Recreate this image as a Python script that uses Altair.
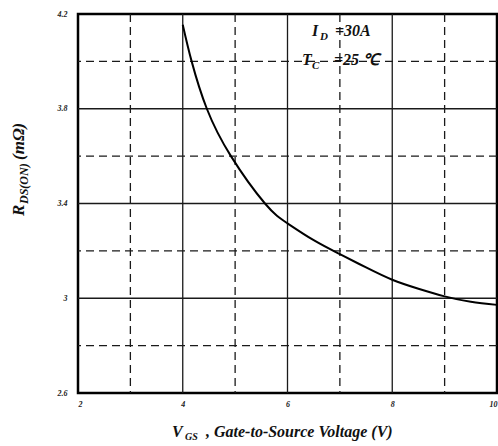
import altair as alt
import pandas as pd

# curve values
vgs = [4.0, 4.17, 4.46, 4.92, 5.57, 6.0, 6.5, 7.0, 7.5, 8.0, 8.5, 9.0, 9.5, 10.0]
rds = [4.155, 4.0, 3.8, 3.6, 3.4, 3.316, 3.245, 3.186, 3.13, 3.078, 3.04, 3.008, 2.985, 2.972]

x_ticks = [2, 4, 6, 8, 10]
y_ticks = [2.6, 3.0, 3.4, 3.8, 4.2]
x_grid_solid = [4, 6, 8]
x_grid_dash = [3, 5, 7, 9]
y_grid_solid = [3.0, 3.4, 3.8]
y_grid_dash = [2.8, 3.2, 3.6, 4.0]

SERIF = "Liberation Serif"
GRID = "#1a1a1a"

xs = alt.Scale(domain=[2, 10], nice=False, zero=False)
ys = alt.Scale(domain=[2.6, 4.2], nice=False, zero=False)

curve_df = pd.DataFrame({"vgs": vgs, "rds": rds})

base_axes = alt.Chart(curve_df).mark_line(opacity=0).encode(
    x=alt.X("vgs:Q", scale=xs, axis=alt.Axis(
        values=x_ticks, grid=False, domain=False, ticks=False, title=None,
        labelFont=SERIF, labelFontStyle="italic", labelFontWeight="bold",
        labelFontSize=8, labelColor="#222", labelPadding=7,
        labelExpr="'' + datum.value")),
    y=alt.Y("rds:Q", scale=ys, axis=alt.Axis(
        values=y_ticks, grid=False, domain=False, ticks=False, title=None,
        labelFont=SERIF, labelFontStyle="italic", labelFontWeight="bold",
        labelFontSize=8, labelColor="#222", labelPadding=11,
        labelExpr="'' + datum.value")),
)

def vrules(vals, dash):
    df = pd.DataFrame({"v": vals})
    m = alt.Chart(df).mark_rule(color=GRID, strokeWidth=1.3,
                                strokeDash=dash if dash else [1, 0])
    return m.encode(x=alt.X("v:Q", scale=xs))

def hrules(vals, dash):
    df = pd.DataFrame({"v": vals})
    m = alt.Chart(df).mark_rule(color=GRID, strokeWidth=1.3,
                                strokeDash=dash if dash else [1, 0])
    return m.encode(y=alt.Y("v:Q", scale=ys))

DASH = [8, 5]
grid = vrules(x_grid_solid, None) + vrules(x_grid_dash, DASH) + \
    hrules(y_grid_solid, None) + hrules(y_grid_dash, DASH)

curve = alt.Chart(curve_df).mark_line(color="black", strokeWidth=2,
                                      interpolate="natural").encode(
    x=alt.X("vgs:Q", scale=xs), y=alt.Y("rds:Q", scale=ys))

def txt(s, x, y, size, angle=0, bold=True):
    return alt.Chart(pd.DataFrame({"t": [s]})).mark_text(
        text=s, font=SERIF, fontStyle="italic",
        fontWeight="bold" if bold else "normal",
        fontSize=size, align="left", baseline="alphabetic",
        angle=angle, color="#111").encode(x=alt.value(x), y=alt.value(y))

labels = (
    txt("V", 94, 423, 16) + txt("GS", 107, 426, 10) +
    txt(", Gate-to-Source Voltage (V)", 128, 423, 16) +
    txt("R", -54, 202, 17, angle=270) + txt("DS(ON)", -50, 190, 12, angle=270) +
    txt(" (mΩ)", -54, 146, 17, angle=270) +
    txt("I", 234, 22, 16) + txt("D", 242, 26, 11) + txt("=30A", 257, 22, 16) +
    txt("T", 224, 51, 16) + txt("C", 234, 55, 11) + txt("=25 ℃", 256, 51, 16)
)

chart = alt.layer(base_axes, grid, curve, labels).properties(
    width=419, height=379,
    autosize=alt.AutoSizeParams(type="none"),
    padding={"left": 78, "top": 14, "right": 1, "bottom": 53},
    background="white",
).configure_view(stroke="black", strokeWidth=2.5)

chart.save("out.html", embed_options={"renderer": "svg", "actions": False})
